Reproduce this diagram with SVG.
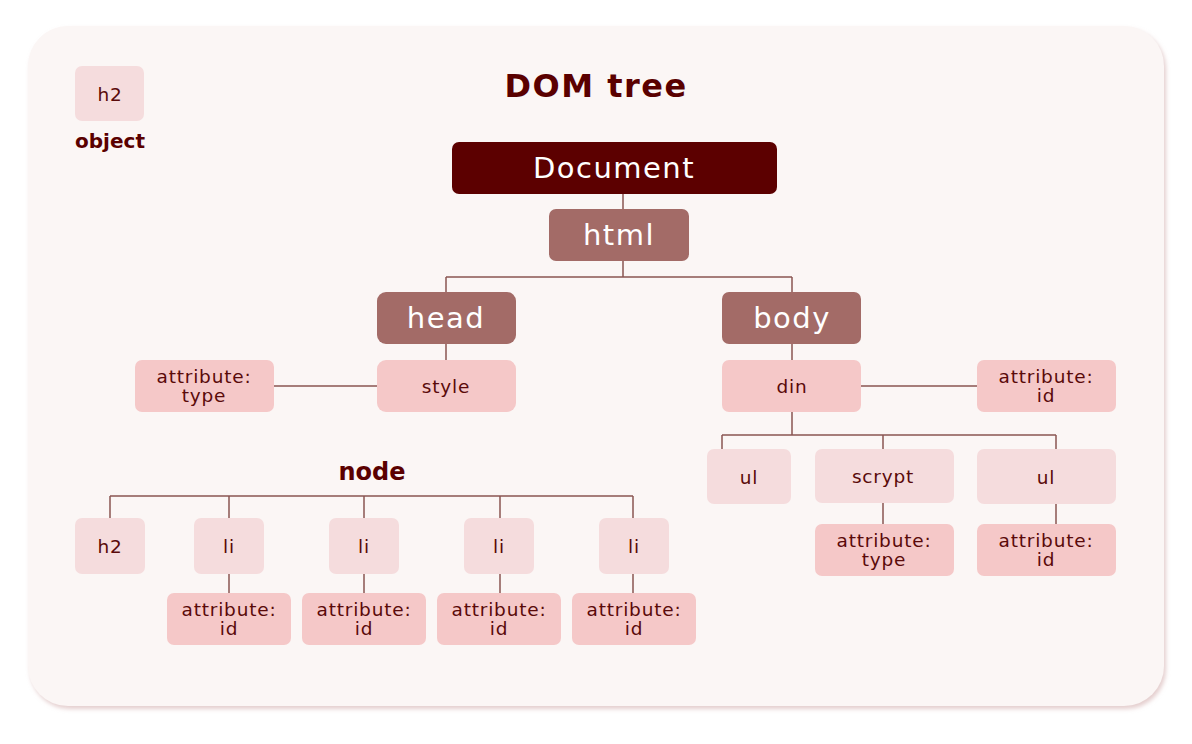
<svg xmlns="http://www.w3.org/2000/svg" width="1192" height="744" viewBox="0 0 1192 744">
<defs>
<style>
.t{font-family:"DejaVu Sans","Noto Sans","Liberation Sans",sans-serif;text-anchor:middle;dominant-baseline:central}
.lbl{font-size:18.5px;fill:#5a0a0a;letter-spacing:0.8px}
.big{font-size:29px;fill:#ffffff;letter-spacing:1.5px}
.bold{font-weight:bold;fill:#5a0000}
.light{fill:#f5dcdd}
.attr{fill:#f5c8c8}
.mid{fill:#a36b67}
.dark{fill:#5c0000}
.ln{stroke:#8a5552;stroke-width:1.5;fill:none}
</style>
<filter id="sh" x="-5%" y="-5%" width="110%" height="110%">
<feDropShadow dx="2" dy="3" stdDeviation="2" flood-color="#d9b9b9" flood-opacity="0.7"/>
</filter>
</defs>
<rect width="1192" height="744" fill="#ffffff"/>
<rect x="28" y="26" width="1136" height="680" rx="40" fill="#fbf6f5" filter="url(#sh)"/>
<text class="t bold" x="596" y="86" font-size="32" letter-spacing="1.5">DOM tree</text>
<g id="legend">
<rect class="light" x="75" y="66" width="69" height="55" rx="7"/>
<text class="t lbl" x="110" y="94">h2</text>
<text class="t bold" x="110" y="141" font-size="20">object</text>
</g>
<g id="connectors">
<path class="ln" d="M623 194V209M623 261V277M446 277H792M446 277V292M792 277V292"/>
<path class="ln" d="M446 344V360M274 386H377"/>
<path class="ln" d="M792 344V360M861 386H977M792 412V435M722 435H1056M722 435V449M883 435V449M1056 435V449M883 503V524M1056 504V524"/>
<path class="ln" d="M110 496H633M110 496V518M229 496V518M364 496V518M500 496V518M633 496V518M229 574V593M364 574V593M500 574V593M633 574V593"/>
</g>
<g id="document">
<rect class="dark" x="452" y="142" width="325" height="52" rx="7"/>
<text class="t big" x="614" y="168" font-size="30" letter-spacing="1">Document</text>
</g>
<g id="html">
<rect class="mid" x="549" y="209" width="140" height="52" rx="7"/>
<text class="t big" x="619" y="235">html</text>
</g>
<g id="head">
<rect class="mid" x="377" y="292" width="139" height="52" rx="9"/>
<text class="t big" x="446" y="318">head</text>
</g>
<g id="body">
<rect class="mid" x="722" y="292" width="139" height="52" rx="7"/>
<text class="t big" x="792" y="318">body</text>
</g>
<g id="style">
<rect class="attr" x="377" y="360" width="139" height="52" rx="9"/>
<text class="t lbl" x="446" y="386">style</text>
</g>
<g id="head-attr">
<rect class="attr" x="135" y="360" width="139" height="52" rx="7"/>
<text class="t lbl"><tspan x="204" y="376">attribute:</tspan><tspan x="204" y="395">type</tspan></text>
</g>
<g id="din">
<rect class="attr" x="722" y="360" width="139" height="52" rx="7"/>
<text class="t lbl" x="792" y="386">din</text>
</g>
<g id="din-attr">
<rect class="attr" x="977" y="360" width="139" height="52" rx="7"/>
<text class="t lbl"><tspan x="1046" y="376">attribute:</tspan><tspan x="1046" y="395">id</tspan></text>
</g>
<g id="ul1">
<rect class="light" x="707" y="449" width="84" height="55" rx="7"/>
<text class="t lbl" x="749" y="477">ul</text>
</g>
<g id="scrypt">
<rect class="light" x="815" y="449" width="139" height="54" rx="7"/>
<text class="t lbl" x="883" y="476">scrypt</text>
</g>
<g id="ul2">
<rect class="light" x="977" y="449" width="139" height="55" rx="7"/>
<text class="t lbl" x="1046" y="477">ul</text>
</g>
<g id="scrypt-attr">
<rect class="attr" x="815" y="524" width="139" height="52" rx="7"/>
<text class="t lbl"><tspan x="884" y="540">attribute:</tspan><tspan x="884" y="559">type</tspan></text>
</g>
<g id="ul2-attr">
<rect class="attr" x="977" y="524" width="139" height="52" rx="7"/>
<text class="t lbl"><tspan x="1046" y="540">attribute:</tspan><tspan x="1046" y="559">id</tspan></text>
</g>
<text class="t bold" x="372" y="472" font-size="24">node</text>
<g id="h2">
<rect class="light" x="75" y="518" width="70" height="56" rx="7"/>
<text class="t lbl" x="110" y="546">h2</text>
</g>
<g id="li1">
<rect class="light" x="194" y="518" width="70" height="56" rx="7"/>
<text class="t lbl" x="229" y="546">li</text>
</g>
<g id="li2">
<rect class="light" x="329" y="518" width="70" height="56" rx="7"/>
<text class="t lbl" x="364" y="546">li</text>
</g>
<g id="li3">
<rect class="light" x="464" y="518" width="70" height="56" rx="7"/>
<text class="t lbl" x="499" y="546">li</text>
</g>
<g id="li4">
<rect class="light" x="599" y="518" width="70" height="56" rx="7"/>
<text class="t lbl" x="634" y="546">li</text>
</g>
<g id="li1-attr">
<rect class="attr" x="167" y="593" width="124" height="52" rx="7"/>
<text class="t lbl"><tspan x="229" y="609">attribute:</tspan><tspan x="229" y="628">id</tspan></text>
</g>
<g id="li2-attr">
<rect class="attr" x="302" y="593" width="124" height="52" rx="7"/>
<text class="t lbl"><tspan x="364" y="609">attribute:</tspan><tspan x="364" y="628">id</tspan></text>
</g>
<g id="li3-attr">
<rect class="attr" x="437" y="593" width="124" height="52" rx="7"/>
<text class="t lbl"><tspan x="499" y="609">attribute:</tspan><tspan x="499" y="628">id</tspan></text>
</g>
<g id="li4-attr">
<rect class="attr" x="572" y="593" width="124" height="52" rx="7"/>
<text class="t lbl"><tspan x="634" y="609">attribute:</tspan><tspan x="634" y="628">id</tspan></text>
</g>
</svg>
